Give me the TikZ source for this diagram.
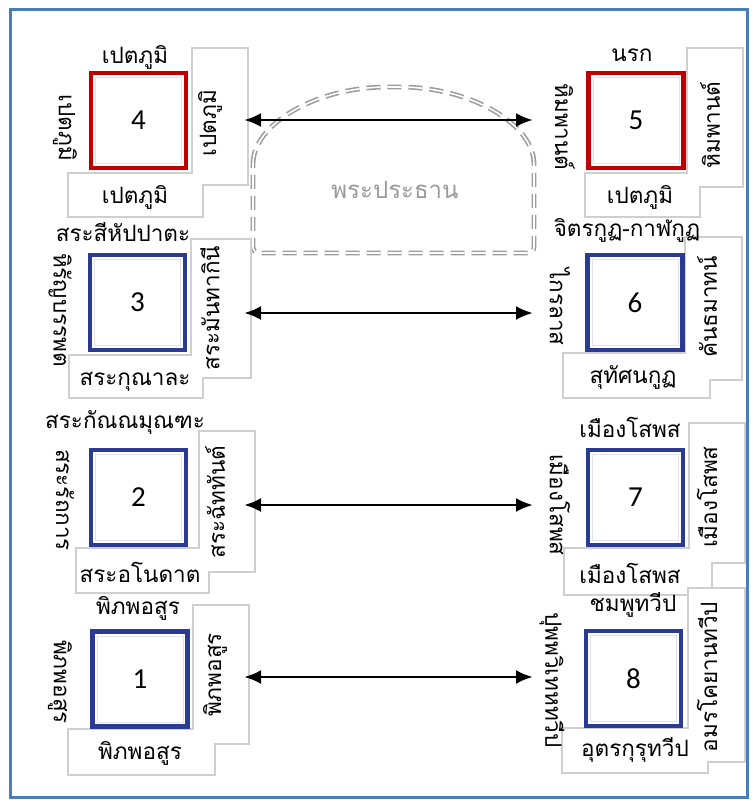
\documentclass[tikz,border=0pt]{standalone}
\usepackage{fontspec}
\setmainfont{Carlito}
\newfontfamily\thai[Script=Thai]{Loma}
\usetikzlibrary{arrows.meta}
\definecolor{tpframe}{HTML}{4A7EBB}
\definecolor{tpred}{HTML}{C00000}
\definecolor{tpblue}{HTML}{2B3A92}
\definecolor{tpedge}{HTML}{CFCFCF}
\definecolor{tpdash}{HTML}{9C9C9C}
\definecolor{tpgray}{HTML}{9A9A9A}
\tikzset{
  realm/.style={rectangle,draw=tpblue,line width=4.2pt,fill=white,minimum size=95pt,
                inner sep=0pt,font=\fontsize{29}{29}\selectfont},
  hell/.style={realm,draw=tpred},
  lbl/.style={inner sep=0pt,font=\thai\fontsize{22.5}{22.5}\selectfont},
  lblL/.style={lbl,rotate=-90},
  lblR/.style={lbl,rotate=90},
  tagbox/.style={draw=tpedge,line width=1.2pt,fill=white},
  link/.style={{Latex[length=17pt,width=14pt]}-{Latex[length=17pt,width=14pt]},line width=2.8pt},
  chairline/.style={draw=tpdash,line width=1.6pt,double=white,double distance=1.6pt,
                    dash pattern=on 14pt off 7pt,rounded corners=6pt},
}

\begin{document}
\begin{tikzpicture}[x=1pt,y=-1pt]
  \fill[white] (0,0) rectangle (753,805);
  \useasboundingbox (0,0) rectangle (753,805);
  \draw[tpframe,line width=3pt] (10,10) rectangle (747,797);

  % principal Buddha image
  \draw[chairline] (253,170) .. controls (253,124.2) and (315.9,87) .. (393.5,87)
        .. controls (471.1,87) and (534,124.2) .. (534,170) -- (534,253) -- (253,253) -- cycle;
  \node[lbl,text=tpgray,font=\thai\fontsize{24}{24}\selectfont] (chair) at (395,190) {พระประธาน};

  % label panels (right + bottom)
  \foreach \rx/\ry/\rX/\rY/\bx/\by/\bX/\bY in {
      192/48/248/185/68/173/203/217, 191/239/251/378/69/355/203/398,
      199/431/255/572/76/548/209/593, 193/605/249/744/68/729/215/775,
      687/48/743/187/585/173/700/217, 685/237/742/380/563/353/710/398,
      689/423/745/563/564/548/712/595, 688/588/745/762/562/728/708/773}{
    \draw[tagbox] (\rx,\ry) -- (\rX,\ry) -- (\rX,\rY) -- (\bX,\rY) -- (\bX,\bY)
                  -- (\bx,\bY) -- (\bx,\by) -- (\rx,\by) -- cycle;
  }

  % realms
  \foreach \n/\x/\y/\kind/\tint in {4/138.5/120.5/hell/tpred, 5/636/120.5/hell/tpred,
      3/137.5/302.5/realm/tpblue, 6/635/302.5/realm/tpblue,
      2/138.5/497.5/realm/tpblue, 7/635.5/497.5/realm/tpblue,
      1/140/679/realm/tpblue, 8/633.5/678.5/realm/tpblue}{
    \node[\kind] (s\n) at (\x,\y) {\n};
    \draw[\tint!15,line width=0.8pt] (\x-43,\y-43) rectangle (\x+43,\y+43);
  }

  \foreach \n/\x/\y/\txt in {4/135/57/เปตภูมิ, 5/632/55/นรก, 3/123/232/สระสีหัปปาตะ,
      6/627/230/จิตรกูฏ-กาฬกูฏ, 2/125/422/สระกัณณมุณฑะ, 7/630/427/เมืองโสพส,
      1/138/608/พิภพอสูร, 8/633/605/ชมพูทวีป}
    \node[lbl] (t\n) at (\x,\y) {\txt};
  \foreach \n/\x/\y/\txt in {4/65/128/เปตภูมิ, 5/565/127/หิมพานต์, 3/60/310/หิรัญบรรพต,
      6/560/307/ไกรลาส, 2/65/500/สระรัถการ, 7/560/505/เมืองโสพส,
      1/60/682/พิภพอสูร, 8/552/680/ปุพพวิเทหทวีป}
    \node[lblL] (l\n) at (\x,\y) {\txt};
  \foreach \n/\x/\y/\txt in {4/210/123/เปตภูมิ, 5/710/125/หิมพานต์, 3/210/308/สระมันทากินี,
      6/707/307/คันธมาทน์, 2/215/502/สระฉัททันต์, 7/707/497/เมืองโสพส,
      1/215/675/พิภพอสูร, 8/707/677/อมรโคยานทวีป}
    \node[lblR] (r\n) at (\x,\y) {\txt};
  \foreach \n/\x/\y/\txt in {4/135/197/เปตภูมิ, 5/640/197/เปตภูมิ, 3/135/382/สระกุณาละ,
      6/633/377/สุทัศนกูฏ, 2/140/572/สระอโนดาต, 7/630/573/เมืองโสพส,
      1/140/753/พิภพอสูร, 8/635/750/อุตรกุรุทวีป}
    \node[lbl] (b\n) at (\x,\y) {\txt};

  % links across the hall
  \foreach \a/\b/\y in {4/5/120, 3/6/313, 2/7/505, 1/8/677}{
    \coordinate (w\a) at (244,\y);
    \coordinate (e\b) at (533,\y);
    \draw[link] (w\a) -- (e\b);
  }
\end{tikzpicture}
\end{document}
